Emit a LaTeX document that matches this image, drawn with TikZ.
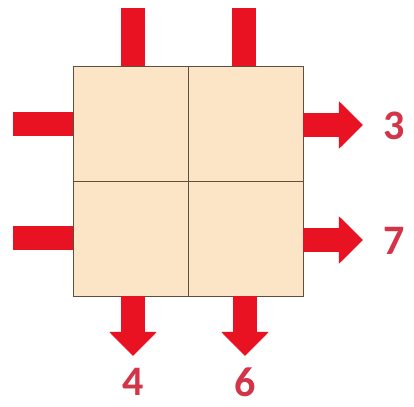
\documentclass[tikz,border=0pt]{standalone}
\usepackage{fontspec}
\setmainfont{Carlito}
\usetikzlibrary{arrows.meta}

\definecolor{cellfill}{RGB}{252,228,198}
\definecolor{celledge}{RGB}{95,80,62}
\definecolor{flowred}{RGB}{232,18,34}
\definecolor{labelred}{RGB}{212,52,72}

\begin{document}
\begin{tikzpicture}[x=0.5pt,y=-0.5pt,line join=miter,
  cell/.style={draw=celledge,fill=cellfill,line width=0.9pt,minimum size=57.5pt,inner sep=0pt,outer sep=0pt},
  feed/.style={draw=flowred,line width=12pt},
  flow/.style={draw=flowred,line width=12pt,-{Triangle[width=23pt,length=12pt]}},
  outlbl/.style={text=labelred,font=\bfseries\fontsize{21}{21}\selectfont,inner sep=0pt}]
  \useasboundingbox (0,0) rectangle (414,407);
  % the four cells
  \node[cell] (c11) at (131,124) {};
  \node[cell] (c12) at (246,124) {};
  \node[cell] (c21) at (131,239) {};
  \node[cell] (c22) at (246,239) {};
  % free ends
  \coordinate (in1) at (133,8);
  \coordinate (in2) at (244,8);
  \coordinate (in3) at (13,124);
  \coordinate (in4) at (13,238);
  \coordinate (out3) at (363,125);
  \coordinate (out7) at (363,240);
  \coordinate (out4) at (133,356);
  \coordinate (out6) at (245,356);
  % inputs
  \draw[feed] (in1) -- (in1 |- c11.north);
  \draw[feed] (in2) -- (in2 |- c12.north);
  \draw[feed] (in3) -- (in3 -| c11.west);
  \draw[feed] (in4) -- (in4 -| c21.west);
  % outputs
  \draw[flow] (out3 -| c12.east) -- (out3);
  \draw[flow] (out7 -| c22.east) -- (out7);
  \draw[flow] (out4 |- c21.south) -- (out4);
  \draw[flow] (out6 |- c22.south) -- (out6);
  \node[outlbl] (lbl3) at (394,126) {3};
  \node[outlbl] (lbl7) at (394,241) {7};
  \node[outlbl] (lbl4) at (133,382) {4};
  \node[outlbl] (lbl6) at (245,382) {6};
\end{tikzpicture}
\end{document}
